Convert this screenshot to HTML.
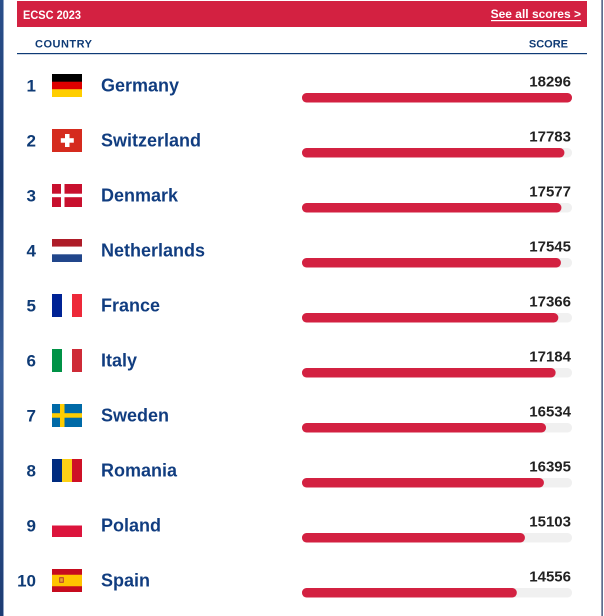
<!DOCTYPE html>
<html><head><meta charset="utf-8"><style>
html,body{margin:0;padding:0;background:#fff;width:604px;height:616px;overflow:hidden}
svg{display:block}
text{font-family:"Liberation Sans",Arial,sans-serif;font-weight:bold}
</style></head><body>
<svg width="604" height="616" viewBox="0 0 604 616" xmlns="http://www.w3.org/2000/svg">
<defs>
<linearGradient id="lg" x1="0" y1="0" x2="0" y2="1">
<stop offset="0" stop-color="#2a4f8a"/><stop offset="0.3" stop-color="#1b3a70"/><stop offset="0.6" stop-color="#3a5f9a"/><stop offset="1" stop-color="#1c3b72"/>
</linearGradient>
</defs>
<rect x="0" y="0" width="604" height="616" fill="#fff"/>
<rect x="0" y="0" width="3" height="616" fill="url(#lg)"/>
<rect x="3" y="0" width="1" height="616" fill="#8fa3c4"/>
<rect x="601.5" y="0" width="1.2" height="616" fill="#1a2f5c"/>

<rect x="17" y="1" width="570" height="26" fill="#d32141"/>
<text x="23" y="19" font-size="12" fill="#fff" textLength="58" lengthAdjust="spacingAndGlyphs">ECSC 2023</text>
<text x="581" y="18" font-size="12" fill="#fff" text-anchor="end">See all scores &gt;</text>
<rect x="491" y="20" width="90" height="1.2" fill="#fff"/>

<text x="35" y="47.6" font-size="11" fill="#0f3b76" textLength="57" lengthAdjust="spacing">COUNTRY</text>
<text x="568" y="47.6" font-size="11" fill="#0f3b76" text-anchor="end">SCORE</text>
<rect x="17" y="53" width="570" height="1.2" fill="#0f3b76"/>

<g fill="#0f3b76" font-size="17" text-anchor="end">
<text x="36" y="91.5">1</text>
<text x="36" y="146.5">2</text>
<text x="36" y="201.5">3</text>
<text x="36" y="256.5">4</text>
<text x="36" y="311.5">5</text>
<text x="36" y="366.5">6</text>
<text x="36" y="421.5">7</text>
<text x="36" y="476.5">8</text>
<text x="36" y="531.5">9</text>
<text x="36" y="586.5">10</text>
</g>
<g fill="#113d80" font-size="18">
<text x="101" y="91.5">Germany</text>
<text x="101" y="146.5">Switzerland</text>
<text x="101" y="201.5">Denmark</text>
<text x="101" y="256.5">Netherlands</text>
<text x="101" y="311.5">France</text>
<text x="101" y="366.5">Italy</text>
<text x="101" y="421.5">Sweden</text>
<text x="101" y="476.5">Romania</text>
<text x="101" y="531.5">Poland</text>
<text x="101" y="586.5">Spain</text>
</g>
<g fill="#222" font-size="15" text-anchor="end">
<text x="571" y="86.5">18296</text>
<text x="571" y="141.5">17783</text>
<text x="571" y="196.5">17577</text>
<text x="571" y="251.5">17545</text>
<text x="571" y="306.5">17366</text>
<text x="571" y="361.5">17184</text>
<text x="571" y="416.5">16534</text>
<text x="571" y="471.5">16395</text>
<text x="571" y="526.5">15103</text>
<text x="571" y="581.5">14556</text>
</g>
<g fill="#f0f0f0">
<rect x="302" y="93" width="270" height="9.5" rx="4.5"/>
<rect x="302" y="148" width="270" height="9.5" rx="4.5"/>
<rect x="302" y="203" width="270" height="9.5" rx="4.5"/>
<rect x="302" y="258" width="270" height="9.5" rx="4.5"/>
<rect x="302" y="313" width="270" height="9.5" rx="4.5"/>
<rect x="302" y="368" width="270" height="9.5" rx="4.5"/>
<rect x="302" y="423" width="270" height="9.5" rx="4.5"/>
<rect x="302" y="478" width="270" height="9.5" rx="4.5"/>
<rect x="302" y="533" width="270" height="9.5" rx="4.5"/>
<rect x="302" y="588" width="270" height="9.5" rx="4.5"/>
</g>
<g fill="#d32141">
<rect x="302" y="93" width="270" height="9.5" rx="4.5"/>
<rect x="302" y="148" width="262.4" height="9.5" rx="4.5"/>
<rect x="302" y="203" width="259.4" height="9.5" rx="4.5"/>
<rect x="302" y="258" width="258.9" height="9.5" rx="4.5"/>
<rect x="302" y="313" width="256.3" height="9.5" rx="4.5"/>
<rect x="302" y="368" width="253.6" height="9.5" rx="4.5"/>
<rect x="302" y="423" width="244.0" height="9.5" rx="4.5"/>
<rect x="302" y="478" width="241.9" height="9.5" rx="4.5"/>
<rect x="302" y="533" width="222.9" height="9.5" rx="4.5"/>
<rect x="302" y="588" width="214.8" height="9.5" rx="4.5"/>
</g>

<!-- Germany -->
<g transform="translate(52,74)">
<rect width="30" height="8" fill="#000"/><rect y="7.7" width="30" height="7.7" fill="#dd0000"/><rect y="15.3" width="30" height="7.7" fill="#ffce00"/>
</g>
<!-- Switzerland -->
<g transform="translate(52,129)">
<rect width="30" height="23" fill="#d52b1e"/><rect x="13" y="5" width="4.5" height="13" fill="#fff"/><rect x="8.8" y="9.2" width="13" height="4.5" fill="#fff"/>
</g>
<!-- Denmark -->
<g transform="translate(52,184)">
<rect width="30" height="23" fill="#c8102e"/><rect x="9" width="3.5" height="23" fill="#fff"/><rect y="9.7" width="30" height="3.5" fill="#fff"/>
</g>
<!-- Netherlands -->
<g transform="translate(52,239)">
<rect width="30" height="7.7" fill="#ae1c28"/><rect y="7.7" width="30" height="7.7" fill="#fff"/><rect y="15.3" width="30" height="7.7" fill="#21468b"/>
</g>
<!-- France -->
<g transform="translate(52,294)">
<rect width="10" height="23" fill="#002395"/><rect x="10" width="10" height="23" fill="#fff"/><rect x="20" width="10" height="23" fill="#ed2939"/>
</g>
<!-- Italy -->
<g transform="translate(52,349)">
<rect width="10" height="23" fill="#009246"/><rect x="10" width="10" height="23" fill="#fff"/><rect x="20" width="10" height="23" fill="#ce2b37"/>
</g>
<!-- Sweden -->
<g transform="translate(52,404)">
<rect width="30" height="23" fill="#006aa7"/><rect x="8" width="4.5" height="23" fill="#fecc00"/><rect y="9.2" width="30" height="4.5" fill="#fecc00"/>
</g>
<!-- Romania -->
<g transform="translate(52,459)">
<rect width="10" height="23" fill="#002b7f"/><rect x="10" width="10" height="23" fill="#fcd116"/><rect x="20" width="10" height="23" fill="#ce1126"/>
</g>
<!-- Poland -->
<g transform="translate(52,514)">
<rect width="30" height="11.5" fill="#fff"/><rect y="11.5" width="30" height="11.5" fill="#dc143c"/>
</g>
<!-- Spain -->
<g transform="translate(52,569)">
<rect width="30" height="23" fill="#c60b1e"/><rect y="5.75" width="30" height="11.5" fill="#ffc400"/>
<rect x="7" y="8" width="5" height="6" fill="#c0542a" rx="1"/><rect x="8.2" y="9.3" width="2.6" height="3.4" fill="#e8a03a"/>
</g>
</svg>
</body></html>
